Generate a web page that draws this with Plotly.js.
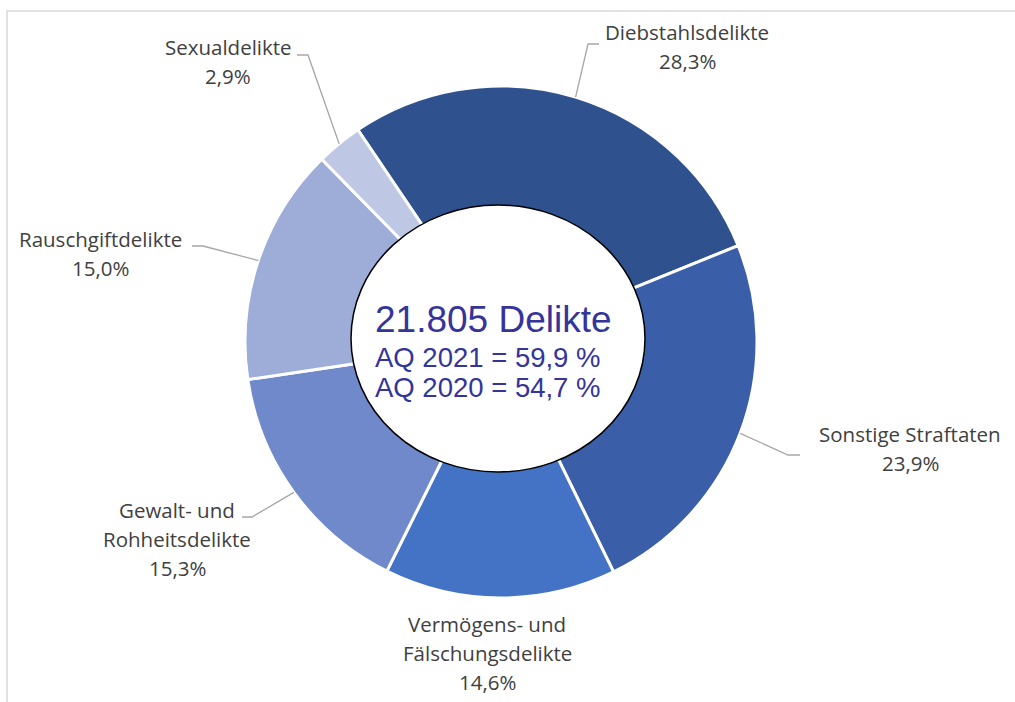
<!DOCTYPE html>
<html>
<head>
<meta charset="utf-8">
<script src="https://cdn.plot.ly/plotly-3.0.1.min.js"></script>
<style>
  html, body { margin: 0; padding: 0; background: #ffffff; }
  #chart { width: 1015px; height: 702px; }
</style>
</head>
<body>
<div id="chart"></div>
<script>
// ---- data ----
const categories = [
  "Diebstahlsdelikte",
  "Sonstige Straftaten",
  "Vermögens- und Fälschungsdelikte",
  "Gewalt- und Rohheitsdelikte",
  "Rauschgiftdelikte",
  "Sexualdelikte"
];
const shares = [28.3, 23.9, 14.6, 15.3, 15.0, 2.9];
const centerTitle = "21.805 Delikte";
const centerLines = ["AQ 2021 = 59,9 %", "AQ 2020 = 54,7 %"];

// ---- styles / layout ----
const sliceColors = ["#2F528F", "#3A5EA7", "#4472C4", "#6F89CB", "#9EADD8", "#BEC8E4"];
const W = 1015, H = 702;
const CX = 501, CY = 342, R = 256;
const ROT = -34;
// label placement: [center x, first baseline y]
const labelPos = [[687, 40], [910, 442], [487, 632], [177, 518], [100, 247], [228, 55]];
// leader lines: [elbow, end] (null = no leader)
const leaders = [
  [[588, 44], [599, 44]],
  [[788, 455], [800, 455]],
  null,
  [[252, 517], [242, 517]],
  [[203, 246], [192, 246]],
  [[308, 55], [297, 55]]
];
const LABEL_FS = 20.5, LINE_STEP = 29;

const px = x => x / W;
const py = y => 1 - y / H;

const total = shares.reduce((a, b) => a + b, 0);

const shapes = [];
const annotations = [];

// frame (top and left edges)
shapes.push({
  type: 'path', xref: 'paper', yref: 'paper',
  path: `M ${px(7)} ${py(H)} L ${px(7)} ${py(11)} L ${px(W)} ${py(11)}`,
  line: { color: '#D9D9D9', width: 1.5 }
});

let cum = 0;
shares.forEach((v, i) => {
  const mid = (ROT + (cum + v / 2) / total * 360) * Math.PI / 180;
  cum += v;
  const ax = CX + R * Math.sin(mid);
  const ay = CY - R * Math.cos(mid);
  if (leaders[i]) {
    const [e, f] = leaders[i];
    shapes.push({
      type: 'path', xref: 'paper', yref: 'paper',
      path: `M ${px(ax)} ${py(ay)} L ${px(e[0])} ${py(e[1])} L ${px(f[0])} ${py(f[1])}`,
      line: { color: '#A6A6A6', width: 1.3 }
    });
  }
  const lines = categories[i].replace('- und ', '- und\n').split('\n');
  lines.push(v.toFixed(1).replace('.', ',') + '%');
  lines.forEach((t, k) => {
    const baseline = labelPos[i][1] + k * LINE_STEP;
    annotations.push({
      xref: 'paper', yref: 'paper',
      x: px(labelPos[i][0]), y: py(baseline - 0.388 * LABEL_FS),
      xanchor: 'center', yanchor: 'middle',
      text: t, showarrow: false, borderpad: 0,
      font: { family: 'Open Sans, sans-serif', size: LABEL_FS, color: '#404040' }
    });
  });
});

// center ellipse
shapes.push({
  type: 'circle', xref: 'paper', yref: 'paper',
  x0: px(351), x1: px(645), y0: py(472), y1: py(205),
  fillcolor: '#FFFFFF', line: { color: '#000000', width: 1.5 }
});

// center text
const CFONT = 'Liberation Sans, Arial, sans-serif';
const centerSpec = [[centerTitle, 37, 332], [centerLines[0], 27.5, 367], [centerLines[1], 27.5, 397]];
centerSpec.forEach(([t, fs, base]) => {
  annotations.push({
    xref: 'paper', yref: 'paper',
    x: px(374), y: py(base - 0.3465 * fs),
    xanchor: 'left', yanchor: 'middle',
    text: t, showarrow: false, borderpad: 0,
    font: { family: CFONT, size: fs, color: '#34349A' }
  });
});

const trace = {
  type: 'pie',
  labels: categories,
  values: shares,
  sort: false,
  direction: 'clockwise',
  rotation: ROT,
  hole: 0.48,
  textinfo: 'none',
  hoverinfo: 'label+percent',
  marker: { colors: sliceColors, line: { color: '#FFFFFF', width: 3 } },
  domain: { x: [(CX - R) / W, (CX + R) / W], y: [1 - (CY + R) / H, 1 - (CY - R) / H] },
  showlegend: false
};

Plotly.newPlot('chart', [trace], {
  width: W, height: H,
  margin: { l: 0, r: 0, t: 0, b: 0 },
  paper_bgcolor: '#FFFFFF',
  plot_bgcolor: '#FFFFFF',
  showlegend: false,
  shapes: shapes,
  annotations: annotations
}, { displayModeBar: false, staticPlot: true });
</script>
</body>
</html>
